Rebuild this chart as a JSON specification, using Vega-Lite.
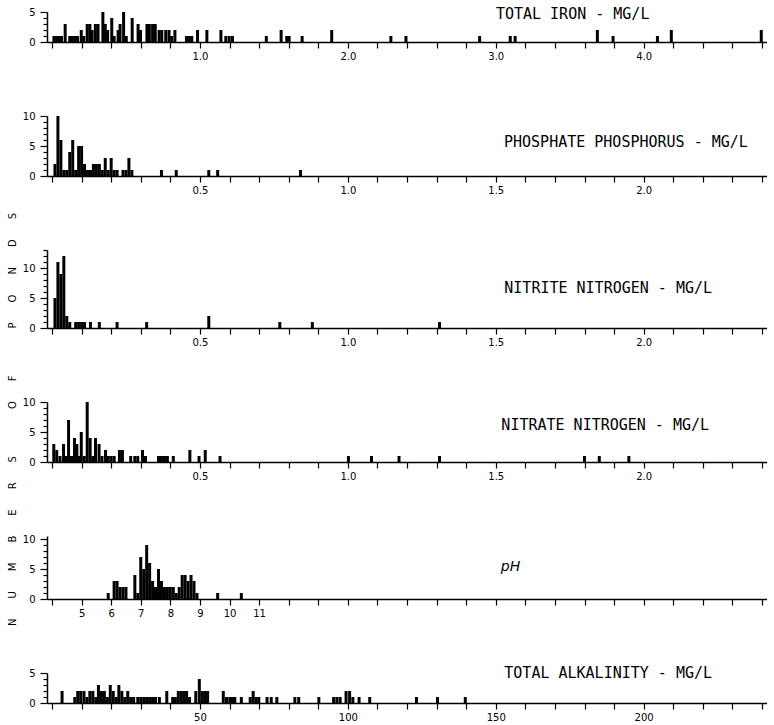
{
  "$schema": "https://vega.github.io/schema/vega-lite/v6.json",
  "background": "white",
  "padding": {"left": 7, "top": 7, "right": 0, "bottom": 0},
  "bounds": "flush",
  "spacing": 74,
  "config": {
    "view": {"stroke": null},
    "font": "DejaVu Sans",
    "axis": {"domainColor": "black", "domainWidth": 1.5, "tickColor": "black", "tickWidth": 1.2, "labelColor": "black", "labelFont": "DejaVu Sans", "labelFontSize": 10, "grid": false, "title": null},
    "text": {"font": "DejaVu Sans Mono", "fontSize": 15, "color": "black"}
  },
  "datasets": {
    "iron": [
      {"v": 0.013, "n": 1}, {"v": 0.031, "n": 1}, {"v": 0.05, "n": 1}, {"v": 0.064, "n": 1}, {"v": 0.089, "n": 3},
      {"v": 0.12, "n": 1}, {"v": 0.137, "n": 1}, {"v": 0.155, "n": 1}, {"v": 0.173, "n": 1}, {"v": 0.198, "n": 2},
      {"v": 0.215, "n": 1}, {"v": 0.238, "n": 3}, {"v": 0.256, "n": 3}, {"v": 0.271, "n": 2}, {"v": 0.293, "n": 3},
      {"v": 0.311, "n": 3}, {"v": 0.344, "n": 5}, {"v": 0.36, "n": 3}, {"v": 0.376, "n": 2}, {"v": 0.404, "n": 4},
      {"v": 0.42, "n": 1}, {"v": 0.447, "n": 2}, {"v": 0.46, "n": 3}, {"v": 0.484, "n": 5}, {"v": 0.502, "n": 1},
      {"v": 0.542, "n": 4}, {"v": 0.582, "n": 3}, {"v": 0.598, "n": 2}, {"v": 0.642, "n": 3}, {"v": 0.658, "n": 3},
      {"v": 0.68, "n": 3}, {"v": 0.698, "n": 3}, {"v": 0.724, "n": 2}, {"v": 0.742, "n": 2}, {"v": 0.769, "n": 2},
      {"v": 0.791, "n": 2}, {"v": 0.809, "n": 1}, {"v": 0.831, "n": 2}, {"v": 0.909, "n": 1}, {"v": 0.927, "n": 1},
      {"v": 0.945, "n": 1}, {"v": 0.984, "n": 2}, {"v": 1.047, "n": 2}, {"v": 1.142, "n": 2}, {"v": 1.175, "n": 1},
      {"v": 1.198, "n": 1}, {"v": 1.22, "n": 1}, {"v": 1.449, "n": 1}, {"v": 1.549, "n": 2}, {"v": 1.587, "n": 1},
      {"v": 1.603, "n": 1}, {"v": 1.691, "n": 1}, {"v": 1.891, "n": 2}, {"v": 2.291, "n": 1}, {"v": 2.393, "n": 1},
      {"v": 2.891, "n": 1}, {"v": 3.098, "n": 1}, {"v": 3.131, "n": 1}, {"v": 3.687, "n": 2}, {"v": 3.793, "n": 1},
      {"v": 4.093, "n": 1}, {"v": 4.187, "n": 2}, {"v": 4.795, "n": 2}
    ],
    "phos": [
      {"v": 0.01, "n": 2}, {"v": 0.02, "n": 10}, {"v": 0.03, "n": 6}, {"v": 0.04, "n": 1}, {"v": 0.05, "n": 1},
      {"v": 0.06, "n": 4}, {"v": 0.07, "n": 6}, {"v": 0.08, "n": 1}, {"v": 0.09, "n": 5}, {"v": 0.1, "n": 5},
      {"v": 0.11, "n": 2}, {"v": 0.12, "n": 1}, {"v": 0.13, "n": 1}, {"v": 0.14, "n": 2}, {"v": 0.15, "n": 2},
      {"v": 0.16, "n": 2}, {"v": 0.17, "n": 1}, {"v": 0.18, "n": 3}, {"v": 0.19, "n": 1}, {"v": 0.2, "n": 3},
      {"v": 0.21, "n": 1}, {"v": 0.22, "n": 1}, {"v": 0.24, "n": 1}, {"v": 0.25, "n": 1}, {"v": 0.26, "n": 3},
      {"v": 0.27, "n": 1}, {"v": 0.37, "n": 1}, {"v": 0.42, "n": 1}, {"v": 0.53, "n": 1}, {"v": 0.56, "n": 1},
      {"v": 0.84, "n": 1}
    ],
    "nitrite": [
      {"v": 0.01, "n": 5}, {"v": 0.02, "n": 11}, {"v": 0.03, "n": 9}, {"v": 0.04, "n": 12}, {"v": 0.05, "n": 2},
      {"v": 0.06, "n": 1}, {"v": 0.08, "n": 1}, {"v": 0.09, "n": 1}, {"v": 0.10, "n": 1}, {"v": 0.11, "n": 1},
      {"v": 0.13, "n": 1}, {"v": 0.16, "n": 1}, {"v": 0.22, "n": 1}, {"v": 0.32, "n": 1}, {"v": 0.53, "n": 2},
      {"v": 0.77, "n": 1}, {"v": 0.88, "n": 1}, {"v": 1.31, "n": 1}
    ],
    "nitrate": [
      {"v": 0.006, "n": 3}, {"v": 0.016, "n": 2}, {"v": 0.027, "n": 1}, {"v": 0.039, "n": 3}, {"v": 0.047, "n": 1},
      {"v": 0.056, "n": 7}, {"v": 0.066, "n": 1}, {"v": 0.076, "n": 4}, {"v": 0.084, "n": 3}, {"v": 0.091, "n": 1},
      {"v": 0.099, "n": 5}, {"v": 0.109, "n": 1}, {"v": 0.119, "n": 10}, {"v": 0.129, "n": 4}, {"v": 0.138, "n": 1},
      {"v": 0.147, "n": 4}, {"v": 0.159, "n": 3}, {"v": 0.169, "n": 1}, {"v": 0.181, "n": 2}, {"v": 0.19, "n": 1},
      {"v": 0.2, "n": 1}, {"v": 0.21, "n": 1}, {"v": 0.228, "n": 2}, {"v": 0.238, "n": 2}, {"v": 0.266, "n": 1},
      {"v": 0.28, "n": 1}, {"v": 0.29, "n": 1}, {"v": 0.306, "n": 2}, {"v": 0.316, "n": 1}, {"v": 0.36, "n": 1},
      {"v": 0.37, "n": 1}, {"v": 0.38, "n": 1}, {"v": 0.39, "n": 1}, {"v": 0.41, "n": 1}, {"v": 0.466, "n": 2},
      {"v": 0.497, "n": 1}, {"v": 0.518, "n": 2}, {"v": 0.568, "n": 1}, {"v": 1.002, "n": 1}, {"v": 1.08, "n": 1},
      {"v": 1.173, "n": 1}, {"v": 1.31, "n": 1}, {"v": 1.8, "n": 1}, {"v": 1.85, "n": 1}, {"v": 1.95, "n": 1}
    ],
    "ph": [
      {"v": 5.9, "n": 1}, {"v": 6.1, "n": 3}, {"v": 6.2, "n": 3}, {"v": 6.3, "n": 2}, {"v": 6.4, "n": 2},
      {"v": 6.5, "n": 2}, {"v": 6.8, "n": 4}, {"v": 6.9, "n": 1}, {"v": 7.0, "n": 7}, {"v": 7.1, "n": 5},
      {"v": 7.2, "n": 9}, {"v": 7.3, "n": 6}, {"v": 7.4, "n": 3}, {"v": 7.5, "n": 2}, {"v": 7.6, "n": 5},
      {"v": 7.7, "n": 3}, {"v": 7.8, "n": 2}, {"v": 7.9, "n": 2}, {"v": 8.0, "n": 2}, {"v": 8.1, "n": 2},
      {"v": 8.2, "n": 1}, {"v": 8.3, "n": 2}, {"v": 8.4, "n": 4}, {"v": 8.5, "n": 4}, {"v": 8.6, "n": 3},
      {"v": 8.7, "n": 4}, {"v": 8.8, "n": 3}, {"v": 8.9, "n": 1}, {"v": 9.6, "n": 1}, {"v": 10.4, "n": 1}
    ],
    "alk": [
      {"v": 3.4, "n": 2}, {"v": 7.7, "n": 1}, {"v": 8.7, "n": 2}, {"v": 9.7, "n": 2}, {"v": 10.8, "n": 2},
      {"v": 11.8, "n": 1}, {"v": 12.8, "n": 2}, {"v": 13.8, "n": 2}, {"v": 14.8, "n": 1}, {"v": 15.7, "n": 3},
      {"v": 16.7, "n": 2}, {"v": 17.7, "n": 2}, {"v": 18.7, "n": 1}, {"v": 19.7, "n": 3}, {"v": 20.7, "n": 2},
      {"v": 21.7, "n": 1}, {"v": 22.6, "n": 3}, {"v": 23.6, "n": 2}, {"v": 24.6, "n": 1}, {"v": 25.6, "n": 2},
      {"v": 26.6, "n": 1}, {"v": 27.6, "n": 1}, {"v": 29.0, "n": 1}, {"v": 30.0, "n": 1}, {"v": 31.0, "n": 1},
      {"v": 32.0, "n": 1}, {"v": 33.0, "n": 1}, {"v": 34.0, "n": 1}, {"v": 35.0, "n": 1}, {"v": 36.3, "n": 1},
      {"v": 38.8, "n": 2}, {"v": 40.8, "n": 1}, {"v": 41.7, "n": 1}, {"v": 42.7, "n": 2}, {"v": 43.7, "n": 2},
      {"v": 44.6, "n": 2}, {"v": 45.5, "n": 2}, {"v": 46.5, "n": 1}, {"v": 48.6, "n": 2}, {"v": 49.8, "n": 4},
      {"v": 50.8, "n": 2}, {"v": 51.7, "n": 2}, {"v": 52.6, "n": 2}, {"v": 57.9, "n": 2}, {"v": 59.0, "n": 1},
      {"v": 60.1, "n": 1}, {"v": 61.0, "n": 1}, {"v": 61.8, "n": 1}, {"v": 64.0, "n": 1}, {"v": 67.0, "n": 1},
      {"v": 68.0, "n": 2}, {"v": 69.0, "n": 1}, {"v": 69.9, "n": 1}, {"v": 72.7, "n": 1}, {"v": 74.1, "n": 1},
      {"v": 76.0, "n": 1}, {"v": 82.1, "n": 1}, {"v": 83.4, "n": 1}, {"v": 90.2, "n": 1}, {"v": 95.2, "n": 1},
      {"v": 96.3, "n": 1}, {"v": 97.4, "n": 1}, {"v": 99.4, "n": 2}, {"v": 100.6, "n": 2}, {"v": 101.7, "n": 1},
      {"v": 103.8, "n": 1}, {"v": 107.4, "n": 1}, {"v": 123.2, "n": 1}, {"v": 130.3, "n": 1}, {"v": 139.7, "n": 1}
    ]
  },
  "vconcat": [
    {
      "width": 720, "height": 30,
      "resolve": {"axis": {"x": "independent", "y": "independent"}},
      "layer": [
        {
          "data": {"name": "iron"},
          "mark": {"type": "bar", "width": 3, "color": "black"},
          "encoding": {
            "x": {"field": "v", "type": "quantitative", "scale": {"domain": [0, 4.8], "nice": false, "zero": false},
              "axis": {"orient": "bottom", "labels": false, "tickSize": 6, "values": [0,0.2,0.4,0.6,0.8,1,1.2,1.4,1.6,1.8,2,2.2,2.4,2.6,2.8,3,3.2,3.4,3.6,3.8,4,4.2,4.4,4.6,4.8]}},
            "y": {"field": "n", "type": "quantitative", "scale": {"domain": [0, 5], "nice": false},
              "axis": {"orient": "left", "labels": false, "values": [0,1,2,3,4,5],
                "tickSize": {"condition": {"test": "datum.value % 5 === 0", "value": 7}, "value": 4}}}
          }
        },
        {
          "data": {"values": [{"label": "TOTAL IRON - MG/L"}]},
          "mark": {"type": "text", "align": "center", "baseline": "middle"},
          "encoding": {
            "x": {"datum": 3.52, "type": "quantitative", "axis": {"orient": "bottom", "domain": false, "ticks": false, "labelPadding": 9, "values": [1, 2, 3, 4], "format": ".1f"}},
            "y": {"datum": 4.6, "type": "quantitative", "axis": {"orient": "left", "domain": false, "ticks": false, "labelPadding": 12, "values": [0, 5]}},
            "text": {"field": "label"}
          }
        }
      ]
    },
    {
      "width": 720, "height": 60,
      "resolve": {"axis": {"x": "independent", "y": "independent"}},
      "layer": [
        {
          "data": {"name": "phos"},
          "mark": {"type": "bar", "width": 3, "color": "black"},
          "encoding": {
            "x": {"field": "v", "type": "quantitative", "scale": {"domain": [0, 2.4], "nice": false, "zero": false},
              "axis": {"orient": "bottom", "labels": false, "tickSize": 6, "values": [0,0.1,0.2,0.3,0.4,0.5,0.6,0.7,0.8,0.9,1,1.1,1.2,1.3,1.4,1.5,1.6,1.7,1.8,1.9,2,2.1,2.2,2.3,2.4]}},
            "y": {"field": "n", "type": "quantitative", "scale": {"domain": [0, 10], "nice": false},
              "axis": {"orient": "left", "labels": false, "values": [0,1,2,3,4,5,6,7,8,9,10],
                "tickSize": {"condition": {"test": "datum.value % 5 === 0", "value": 7}, "value": 4}}}
          }
        },
        {
          "data": {"values": [{"label": "PHOSPHATE  PHOSPHORUS - MG/L"}]},
          "mark": {"type": "text", "align": "center", "baseline": "middle"},
          "encoding": {
            "x": {"datum": 1.94, "type": "quantitative", "axis": {"orient": "bottom", "domain": false, "ticks": false, "labelPadding": 9, "values": [0.5, 1, 1.5, 2], "format": ".1f"}},
            "y": {"datum": 5.7, "type": "quantitative", "axis": {"orient": "left", "domain": false, "ticks": false, "labelPadding": 12, "values": [0, 5, 10]}},
            "text": {"field": "label"}
          }
        }
      ]
    },
    {
      "width": 720, "height": 78,
      "resolve": {"axis": {"x": "independent", "y": "independent"}},
      "layer": [
        {
          "data": {"name": "nitrite"},
          "mark": {"type": "bar", "width": 3, "color": "black"},
          "encoding": {
            "x": {"field": "v", "type": "quantitative", "scale": {"domain": [0, 2.4], "nice": false, "zero": false},
              "axis": {"orient": "bottom", "labels": false, "tickSize": 6, "values": [0,0.1,0.2,0.3,0.4,0.5,0.6,0.7,0.8,0.9,1,1.1,1.2,1.3,1.4,1.5,1.6,1.7,1.8,1.9,2,2.1,2.2,2.3,2.4]}},
            "y": {"field": "n", "type": "quantitative", "scale": {"domain": [0, 13], "nice": false},
              "axis": {"orient": "left", "labels": false, "values": [0,1,2,3,4,5,6,7,8,9,10,11,12,13],
                "tickSize": {"condition": {"test": "datum.value % 5 === 0", "value": 7}, "value": 4}}}
          }
        },
        {
          "data": {"values": [{"label": "NITRITE  NITROGEN - MG/L"}]},
          "mark": {"type": "text", "align": "center", "baseline": "middle"},
          "encoding": {
            "x": {"datum": 1.88, "type": "quantitative", "axis": {"orient": "bottom", "domain": false, "ticks": false, "labelPadding": 9, "values": [0.5, 1, 1.5, 2], "format": ".1f"}},
            "y": {"datum": 6.7, "type": "quantitative", "axis": {"orient": "left", "domain": false, "ticks": false, "labelPadding": 12, "values": [0, 5, 10]}},
            "text": {"field": "label"}
          }
        }
      ]
    },
    {
      "width": 720, "height": 60,
      "resolve": {"axis": {"x": "independent", "y": "independent"}},
      "layer": [
        {
          "data": {"name": "nitrate"},
          "mark": {"type": "bar", "width": 3, "color": "black"},
          "encoding": {
            "x": {"field": "v", "type": "quantitative", "scale": {"domain": [0, 2.4], "nice": false, "zero": false},
              "axis": {"orient": "bottom", "labels": false, "tickSize": 6, "values": [0,0.1,0.2,0.3,0.4,0.5,0.6,0.7,0.8,0.9,1,1.1,1.2,1.3,1.4,1.5,1.6,1.7,1.8,1.9,2,2.1,2.2,2.3,2.4]}},
            "y": {"field": "n", "type": "quantitative", "scale": {"domain": [0, 10], "nice": false},
              "axis": {"orient": "left", "labels": false, "values": [0,1,2,3,4,5,6,7,8,9,10],
                "tickSize": {"condition": {"test": "datum.value % 5 === 0", "value": 7}, "value": 4},
                "title": "N\u2003\u2003U\u2003\u2003M\u2003\u2003B\u2003\u2003E\u2003\u2003R\u2003\u2003S\u2003\u2003\u2003\u2003\u2002\u2009O\u2003\u2003F\u2003\u2003\u2003\u2003\u2002\u2009P\u2003\u2003O\u2003\u2003N\u2003\u2003D\u2003\u2003S",
                "titleFont": "DejaVu Sans", "titleFontSize": 10, "titleFontWeight": "normal", "titleColor": "black",
                "titleAngle": -90, "titleAlign": "center", "titleBaseline": "middle", "titleX": -34.5, "titleY": 17}}
          }
        },
        {
          "data": {"values": [{"label": "NITRATE  NITROGEN - MG/L"}]},
          "mark": {"type": "text", "align": "center", "baseline": "middle"},
          "encoding": {
            "x": {"datum": 1.87, "type": "quantitative", "axis": {"orient": "bottom", "domain": false, "ticks": false, "labelPadding": 9, "values": [0.5, 1, 1.5, 2], "format": ".1f"}},
            "y": {"datum": 6.2, "type": "quantitative", "axis": {"orient": "left", "domain": false, "ticks": false, "labelPadding": 12, "values": [0, 5, 10]}},
            "text": {"field": "label"}
          }
        }
      ]
    },
    {
      "width": 720, "height": 63,
      "resolve": {"axis": {"x": "independent", "y": "independent"}},
      "layer": [
        {
          "data": {"name": "ph"},
          "mark": {"type": "bar", "width": 3, "color": "black"},
          "encoding": {
            "x": {"field": "v", "type": "quantitative", "scale": {"domain": [4, 28], "nice": false, "zero": false},
              "axis": {"orient": "bottom", "labels": false, "tickSize": 6, "values": [4,5,6,7,8,9,10,11,12,13,14,15,16,17,18,19,20,21,22,23,24,25,26,27,28]}},
            "y": {"field": "n", "type": "quantitative", "scale": {"domain": [0, 10.5], "nice": false},
              "axis": {"orient": "left", "labels": false, "values": [0,1,2,3,4,5,6,7,8,9,10],
                "tickSize": {"condition": {"test": "datum.value % 5 === 0", "value": 7}, "value": 4}}}
          }
        },
        {
          "data": {"values": [{"label": "pH"}]},
          "mark": {"type": "text", "align": "center", "baseline": "middle", "fontStyle": "italic", "font": "DejaVu Sans", "fontSize": 14},
          "encoding": {
            "x": {"datum": 19.5, "type": "quantitative", "axis": {"orient": "bottom", "domain": false, "ticks": false, "labelPadding": 9, "values": [5, 6, 7, 8, 9, 10, 11], "format": "d"}},
            "y": {"datum": 5.3, "type": "quantitative", "axis": {"orient": "left", "domain": false, "ticks": false, "labelPadding": 12, "values": [0, 5, 10]}},
            "text": {"field": "label"}
          }
        }
      ]
    },
    {
      "width": 720, "height": 30,
      "resolve": {"axis": {"x": "independent", "y": "independent"}},
      "layer": [
        {
          "data": {"name": "alk"},
          "mark": {"type": "bar", "width": 3, "color": "black"},
          "encoding": {
            "x": {"field": "v", "type": "quantitative", "scale": {"domain": [0, 240], "nice": false, "zero": false},
              "axis": {"orient": "bottom", "labels": false, "tickSize": 6, "values": [0,10,20,30,40,50,60,70,80,90,100,110,120,130,140,150,160,170,180,190,200,210,220,230,240]}},
            "y": {"field": "n", "type": "quantitative", "scale": {"domain": [0, 5], "nice": false},
              "axis": {"orient": "left", "labels": false, "values": [0,1,2,3,4,5],
                "tickSize": {"condition": {"test": "datum.value % 5 === 0", "value": 7}, "value": 4}}}
          }
        },
        {
          "data": {"values": [{"label": "TOTAL ALKALINITY - MG/L"}]},
          "mark": {"type": "text", "align": "center", "baseline": "middle"},
          "encoding": {
            "x": {"datum": 188, "type": "quantitative", "axis": {"orient": "bottom", "domain": false, "ticks": false, "labelPadding": 9, "values": [50, 100, 150, 200], "format": "d"}},
            "y": {"datum": 5, "type": "quantitative", "axis": {"orient": "left", "domain": false, "ticks": false, "labelPadding": 12, "values": [0, 5]}},
            "text": {"field": "label"}
          }
        }
      ]
    }
  ]
}
